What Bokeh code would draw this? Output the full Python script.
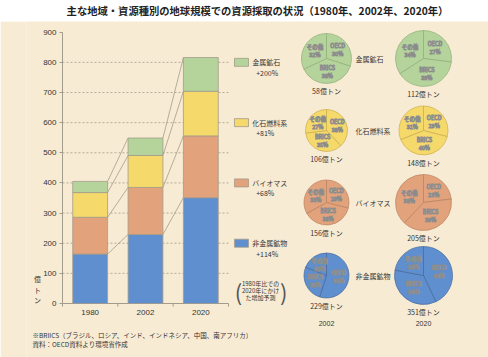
import math
from bokeh.plotting import figure
from bokeh.layouts import column
from bokeh.models import Range1d, FixedTicker
from bokeh.core.properties import value
from bokeh.embed import file_html
from bokeh.resources import INLINE

# ---------------- data ----------------
years = ["1980", "2002", "2020"]
resources = ["非金属鉱物", "バイオマス", "化石燃料系", "金属鉱石"]  # stacking order, bottom to top
non_metal = [164, 229, 351]
biomass = [122, 156, 205]
fossil = [82, 106, 148]
metal = [37, 58, 112]
growth_labels = ["+114%", "+68%", "+81%", "+200%"]
y_ticks = [0, 100, 200, 300, 400, 500, 600, 700, 800, 900]

regions = ["OECD", "BRICS", "その他"]
# shares [OECD, BRICS, その他] in %, order follows `resources`
shares_2002 = [[55, 26, 19], [29, 38, 33], [38, 35, 27], [30, 38, 32]]
shares_2020 = [[43, 35, 22], [23, 39, 38], [29, 40, 31], [27, 39, 34]]

title_text = "主な地域・資源種別の地球規模での資源採取の状況（1980年、2002年、2020年）"
unit_text = "億\nト\nン"
note_lines = ["1980年比での", "2020年にかけ", "た増加予測"]
foot1 = "※BRIICS（ブラジル、ロシア、インド、インドネシア、中国、南アフリカ）"
foot2 = "資料：OECD資料より環境省作成"

# ---------------- style ----------------
CREAM = "#f8ebd3"
GRAY = "#a39c8c"
TXT = "#333333"
JP = "Noto Sans CJK JP"
colors = ["#5f8fcf", "#e2a27b", "#f5d96b", "#b5d49c"]
dark = ["#46699b", "#b88262", "#c9ad4f", "#8fae7a"]

W = 488
TITLE_H = 21
MAIN_H = 357 - TITLE_H

# ---------------- title ----------------
t = figure(width=W, height=TITLE_H, x_range=Range1d(0, W), y_range=Range1d(0, TITLE_H),
           output_backend="svg", toolbar_location=None, x_axis_type=None, y_axis_type=None,
           min_border=0)
t.outline_line_color = None
t.grid.visible = False
t.background_fill_color = "white"
t.border_fill_color = "white"
t.text(x=[244], y=[TITLE_H - 9.5], text=[title_text], text_align="center", text_baseline="middle",
       text_font=value(JP), text_font_size="10.3px", text_font_style="bold", text_color="#222222")

# ---------------- main figure (bars + legend + pies) ----------------
PX_PER_CAT = 55.33
FRAME_L, FRAME_R = 26, W            # page x of the frame
FRAME_T, FRAME_B = TITLE_H, 357     # page y of the frame
AX_X, AX_Y0, AX_Y900 = 62, 303, 31.7
ppu = (AX_Y0 - AX_Y900) / 900.0
xr = Range1d(-(AX_X - FRAME_L) / PX_PER_CAT, (FRAME_R - AX_X) / PX_PER_CAT)
yr = Range1d(-(FRAME_B - AX_Y0) / ppu, 900 + (AX_Y900 - FRAME_T) / ppu)

p = figure(width=W, height=MAIN_H, x_range=xr, y_range=yr,
           extra_x_ranges={"px": Range1d(FRAME_L, FRAME_R)},
           extra_y_ranges={"py": Range1d(-FRAME_B, -FRAME_T)},
           output_backend="svg", toolbar_location=None, x_axis_location=None,
           min_border_left=FRAME_L, min_border_right=0, min_border_top=0, min_border_bottom=0)
p.background_fill_color = CREAM
p.border_fill_color = CREAM
p.outline_line_color = None
p.xgrid.visible = False
p.ygrid.visible = False

# y axis drawn at x = 0
ya = p.yaxis[0]
ya.fixed_location = 0
ya.bounds = (0, 900)
ya.ticker = FixedTicker(ticks=y_ticks)
ya.axis_line_color = GRAY
ya.major_tick_line_color = GRAY
ya.major_tick_out = 3
ya.major_tick_in = 0
ya.minor_tick_line_color = None
ya.major_label_text_font = "Liberation Sans"
ya.major_label_text_font_size = "8px"
ya.major_label_text_color = TXT
ya.major_label_standoff = 3

xs = [0.5, 1.5, 2.5]
BW = 0.63

# dashed grid lines across the bar area
gv = y_ticks[1:-1]
p.segment(x0=[0] * len(gv), x1=[3] * len(gv), y0=gv, y1=gv,
          line_color=GRAY, line_dash="2 2", line_width=0.8)
# category axis: line, boundary ticks, labels
p.segment(x0=[0], x1=[3], y0=[0], y1=[0], line_color=GRAY, line_width=1)
p.ray(x=[0, 1, 2, 3], y=[0] * 4, length=3, length_units="screen", angle=-math.pi / 2,
      line_color=GRAY, line_width=1)
p.text(x=xs, y=[0] * 3, y_offset=8.5, text=years, text_align="center", text_baseline="middle",
       text_font=value("Liberation Sans"), text_font_size="8px", text_color=TXT)

series = [non_metal, biomass, fossil, metal]
src = dict(x=xs, **{f"s{i}": s for i, s in enumerate(series)})
p.vbar_stack([f"s{i}" for i in range(4)], x="x", width=BW, source=src,
             fill_color=colors, line_color=GRAY, line_width=0.8)

# connector lines between stacked levels
cum = []
run = [0, 0, 0]
for s in series:
    run = [a + b for a, b in zip(run, s)]
    cum.append(run)
cx0, cx1, cy0, cy1 = [], [], [], []
for lev in cum:
    for i in range(2):
        cx0.append(xs[i] + BW / 2)
        cx1.append(xs[i + 1] - BW / 2)
        cy0.append(lev[i])
        cy1.append(lev[i + 1])
p.segment(x0=cx0, x1=cx1, y0=cy0, y1=cy1, line_color=GRAY, line_width=0.8)

# legend on the right of the bars
leg_y = [200, 400, 600, 800]
p.rect(x=[3.235] * 4, y=leg_y, width=14, height=8, width_units="screen", height_units="screen",
       fill_color=colors, line_color=GRAY, line_width=0.8)
p.text(x=[3.43] * 4, y=leg_y, text=resources, text_baseline="middle",
       text_font=value(JP), text_font_size="7px", text_color=TXT)
p.text(x=[3.50] * 4, y=leg_y, y_offset=10.5, text=growth_labels, text_baseline="middle",
       text_font=value(JP), text_font_size="7px", text_color=TXT)

# note in parentheses
p.text(x=[3.58] * 3, y=[66, 43, 20], text=note_lines, text_align="center", text_baseline="middle",
       text_font=value(JP), text_font_size="6px", text_color=TXT)
p.text(x=[3.18, 4.0], y=[43, 43], text=["(", ")"], text_align="center", text_baseline="middle",
       text_font=value(JP), text_font_size="22px", text_color="#555555")

# unit label (vertical) and footnotes, placed in page pixels
p.text(x=[37], y=[-289], text=[unit_text], text_align="center", text_baseline="middle",
       text_font=value(JP), text_font_size="7px", text_color=TXT, text_line_height=1.05,
       x_range_name="px", y_range_name="py")
p.text(x=[32, 32], y=[-334, -343], text=[foot1, foot2], text_baseline="middle",
       text_font=value(JP), text_font_size="6.5px", text_color=TXT,
       x_range_name="px", y_range_name="py")

# ---------------- pies ----------------
col_x = [326, 423]
row_y = [275, 202, 130, 58]          # per resource (bottom to top order)
radii = [[22.5, 22.5, 21, 25], [29, 28, 24.5, 28]]
totals = [[s[1] for s in series], [s[2] for s in series]]
all_shares = [shares_2002, shares_2020]

wx, wy, wr, ws, we, wf, wl = [], [], [], [], [], [], []
lx, ly, lt = [], [], []
for c in range(2):
    for k in range(4):
        cxp, cyp, r = col_x[c], -row_y[k], radii[c][k]
        a = 90.0
        for j, sh in enumerate(all_shares[c][k]):
            b = a - 360.0 * sh / 100.0
            wx.append(cxp); wy.append(cyp); wr.append(r)
            ws.append(math.radians(a)); we.append(math.radians(b))
            wf.append(colors[k]); wl.append(dark[k])
            m = math.radians((a + b) / 2)
            lx.append(cxp + 0.55 * r * math.cos(m))
            ly.append(cyp + 0.55 * r * math.sin(m))
            lt.append(f"{regions[j]}\n{sh}%")
            a = b

p.wedge(x=wx, y=wy, radius=wr, start_angle=ws, end_angle=we, direction="clock",
        fill_color=wf, line_color=wl, line_width=0.7, x_range_name="px", y_range_name="py")
p.text(x=lx, y=ly, text=lt, text_align="center", text_baseline="middle",
       text_font=value(JP), text_font_size="5.5px", text_color="white",
       text_outline_color="#8c8c8c", text_line_height=1.0,
       x_range_name="px", y_range_name="py")

# tonnage labels under pies
tx, ty, tt = [], [], []
for c in range(2):
    for k in range(4):
        tx.append(col_x[c])
        ty.append(-(row_y[k] + radii[c][k] + 7.5))
        tt.append(f"{totals[c][k]}億トン")
p.text(x=tx, y=ty, text=tt, text_align="center", text_baseline="middle",
       text_font=value(JP), text_font_size="7px", text_color=TXT,
       x_range_name="px", y_range_name="py")

# resource names between the pie columns
p.text(x=[355] * 4, y=[-v for v in row_y], text=resources, text_baseline="middle",
       text_font=value(JP), text_font_size="7px", text_color=TXT,
       x_range_name="px", y_range_name="py")
# year labels below the pie columns
p.text(x=col_x, y=[-323, -323], text=years[1:], text_align="center", text_baseline="middle",
       text_font=value("Liberation Sans"), text_font_size="7px", text_color=TXT,
       x_range_name="px", y_range_name="py")

layout = column(t, p)
open("out.html", "w").write(file_html(layout, INLINE))
